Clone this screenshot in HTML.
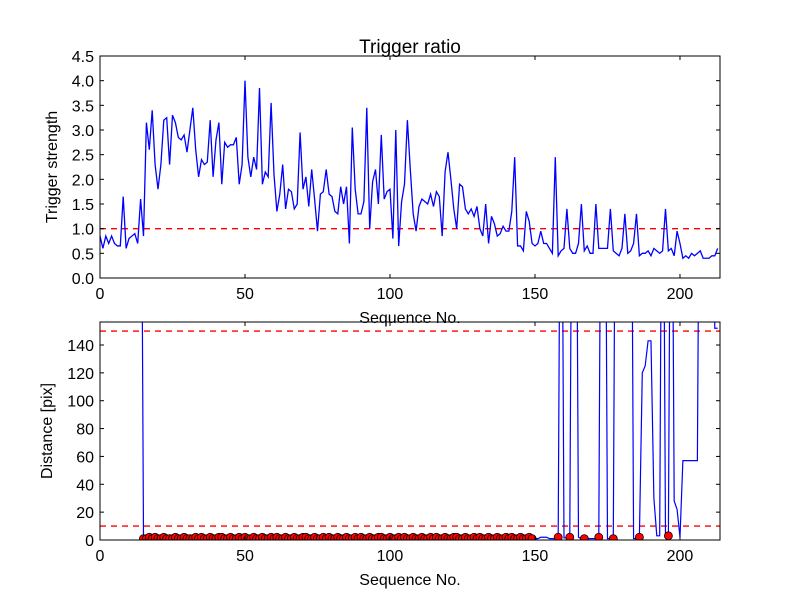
<!DOCTYPE html>
<html><head><meta charset="utf-8"><style>
body{margin:0;background:#fff;}
svg{font-family:"Liberation Sans",sans-serif;}
</style></head><body>
<svg id="chart" width="800" height="600" xmlns="http://www.w3.org/2000/svg">
<rect width="800" height="600" fill="#fff"/>
<defs>
<clipPath id="c1"><rect x="100" y="56" width="620" height="222"/></clipPath>
<clipPath id="c2"><rect x="100" y="322" width="620" height="218"/></clipPath>
</defs>
<g id="top"></g>
<g id="bot"></g>
</svg>
<script>
const strength = [0.85,0.6,0.85,0.7,0.85,0.7,0.65,0.65,1.65,0.6,0.8,0.85,0.9,0.7,1.6,0.85,3.15,2.6,3.4,2.3,1.8,2.3,3.2,3.25,2.3,3.3,3.15,2.85,2.8,2.9,2.55,3.0,3.45,2.6,2.05,2.4,2.3,2.35,3.2,2.05,2.8,3.15,1.9,2.75,2.65,2.7,2.7,2.85,1.9,2.3,4.0,2.45,2.05,2.45,2.2,3.85,1.9,2.15,2.05,3.55,2.1,1.35,1.7,2.3,1.4,1.8,1.75,1.4,1.5,2.95,1.8,2.05,1.45,2.2,1.6,0.95,1.7,1.75,2.2,1.7,1.65,1.35,1.3,1.85,1.5,1.85,0.7,3.05,1.8,1.3,1.3,1.55,3.45,1.0,1.95,2.2,1.5,2.9,1.6,1.75,1.8,0.8,3.0,0.65,1.55,1.9,3.2,2.2,1.3,0.95,1.45,1.6,1.55,1.5,1.7,1.45,1.75,1.65,0.85,2.15,2.55,2.0,1.4,1.0,1.9,1.85,1.4,1.3,1.4,1.25,1.45,1.0,0.85,1.5,0.7,1.25,1.1,0.85,0.9,1.05,0.95,0.95,1.35,2.45,0.65,0.65,0.55,1.35,1.15,0.7,0.65,0.7,0.95,0.7,0.7,0.6,0.5,2.45,0.45,0.55,0.6,1.4,0.6,0.5,0.5,0.7,1.5,0.55,0.65,0.5,0.5,1.5,0.6,0.6,0.6,0.6,1.4,0.55,0.5,0.45,0.6,1.3,0.5,0.55,0.7,1.3,0.45,0.5,0.5,0.55,0.45,0.6,0.55,0.5,0.55,1.4,0.55,0.6,0.45,0.95,0.7,0.4,0.45,0.4,0.5,0.45,0.5,0.55,0.4,0.4,0.4,0.45,0.45,0.6];
const distStart = 14;
const distance = [500,1,1,2,1,2,1,1,2,1,1,1,2,1,1,2,1,1,1,2,1,2,1,1,2,1,1,2,2,1,1,2,1,1,2,1,2,1,1,2,1,1,2,1,1,2,1,2,1,1,2,1,1,2,1,1,2,2,1,1,2,1,1,2,1,2,1,1,2,1,1,2,1,1,2,1,2,1,1,2,1,1,2,2,1,1,2,1,1,2,1,2,1,1,2,1,1,2,1,1,2,1,2,1,1,2,1,1,2,2,1,1,2,1,1,2,1,2,1,1,2,1,1,2,1,1,2,1,2,1,1,2,1,1,2,1,
1,1,2,2,2,1,1,1,2,500,1.5,1.5,2,500,500,2,1,1,1,1,1,1,2,500,500,1,1,1,500,500,500,500,500,500,1,1,2,120,125,143,143,30,3,3,500,3,3,500,28,22,2,57,57,57,57,57,57,500,500,500,500,500,152,152];
const dotIdx = [158,162,167,172,177,186,196];
const topTicksY = [0,0.5,1,1.5,2,2.5,3,3.5,4,4.5];
const botTicksY = [0,20,40,60,80,100,120,140];
const ticksX = [0,50,100,150,200];
const threshTop = [1.0];
const threshBot = [10,150];

const NS="http://www.w3.org/2000/svg";
const L=100,R=720,XMAX=213.8;
const sx=v=>L+v*(R-L)/XMAX;
const t1=v=>278-v*(222/4.5);
const t2=v=>540-v*(195/140);
function mk(p,tag,a){const e=document.createElementNS(NS,tag);for(const k in a)e.setAttribute(k,a[k]);p.appendChild(e);return e;}
function axes(g,top,bot,ticksY,sy,fmt,ylab,title){
  mk(g,'rect',{x:L,y:top,width:R-L,height:bot-top,fill:'none',stroke:'#000','stroke-width':1});
  ticksX.forEach(v=>{const x=sx(v);
    const a=mk(g,'line',{x1:x,x2:x,y1:bot,y2:bot-4,stroke:'#000'});
    
    mk(g,'line',{x1:x,x2:x,y1:top,y2:top+4,stroke:'#000'});
    const t=mk(g,'text',{x:x,y:bot+21,'font-size':16,'text-anchor':'middle'});t.textContent=v;
    });
  ticksY.forEach(v=>{const y=sy(v);
    mk(g,'line',{x1:L,x2:L+4,y1:y,y2:y,stroke:'#000'});
    mk(g,'line',{x1:R,x2:R-4,y1:y,y2:y,stroke:'#000'});
    const t=mk(g,'text',{x:L-6,y:y+6,'font-size':16,'text-anchor':'end'});t.textContent=fmt(v);
    });
  const xl=mk(g,'text',{x:410,y:bot+45,'font-size':16,'text-anchor':'middle'});xl.textContent='Sequence No.';
  
  const cy=(top+bot)/2;
  const yl=mk(g,'text',{x:0,y:0,'font-size':16,'text-anchor':'middle',transform:`translate(${ylab},${cy}) rotate(-90)`});
  yl.textContent=title;
}
const gt=document.getElementById('top'),gb=document.getElementById('bot');
// top panel
const tt=mk(gt,'text',{x:410,y:53,'font-size':19,'text-anchor':'middle'});tt.textContent='Trigger ratio';

threshTop.forEach(v=>{const l=mk(gt,'line',{x1:L,x2:R,y1:t1(v),y2:t1(v),stroke:'#f00','stroke-width':1.3,'stroke-dasharray':'6,5'});
  });
const p1=mk(gt,'polyline',{points:strength.map((v,i)=>sx(i)+','+t1(v)).join(' '),fill:'none',stroke:'#00f','stroke-width':1.3,'clip-path':'url(#c1)'});

axes(gt,56,278,topTicksY,t1,v=>v.toFixed(1),57,'Trigger strength');
// bottom panel
threshBot.forEach(v=>{const l=mk(gb,'line',{x1:L,x2:R,y1:t2(v),y2:t2(v),stroke:'#f00','stroke-width':1.3,'stroke-dasharray':'6,5'});
  });
const p2=mk(gb,'polyline',{points:distance.map((v,i)=>sx(i+distStart)+','+t2(Math.min(v,400))).join(' '),fill:'none',stroke:'#00f','stroke-width':1.2,'clip-path':'url(#c2)'});

const gd=mk(gb,'g',{'clip-path':'url(#c2)'});
distance.forEach((v,i)=>{const idx=i+distStart;
  if((idx>=15&&idx<150&&v<10)||dotIdx.includes(idx)){
    const c=mk(gd,'circle',{cx:sx(idx),cy:t2(v),r:4,fill:'#f00',stroke:'#000','stroke-width':0.8});
    }});
axes(gb,322,540,botTicksY,t2,v=>String(v),52,'Distance [pix]');
</script>
</body></html>
